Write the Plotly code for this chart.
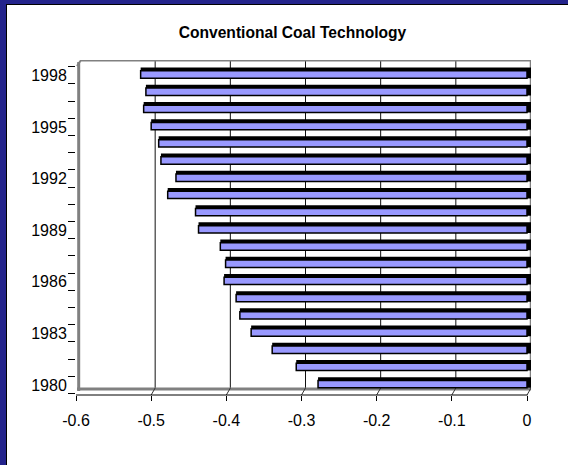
import plotly.graph_objects as go

# ---- data ----
years = list(range(1980, 1999))
values = [-0.278, -0.307, -0.339, -0.367, -0.382, -0.387, -0.403, -0.401, -0.408,
          -0.437, -0.441, -0.478, -0.467, -0.487, -0.490, -0.500, -0.510, -0.507, -0.514]
year_ticks = [1980, 1983, 1986, 1989, 1992, 1995, 1998]
x_ticks = [-0.6, -0.5, -0.4, -0.3, -0.2, -0.1, 0]
x_tick_text = ["-0.6", "-0.5", "-0.4", "-0.3", "-0.2", "-0.1", "0"]
title = "Conventional Coal Technology"

# ---- geometry (pixels) ----
W, H = 568, 465
L, R, T, B = 76, 531, 60, 395
XMIN = -0.6
PXU = 451 / 0.6            # pixels per x unit
XMAX = XMIN + (R - L) / PXU
PYU = 17.2                 # pixels per year
YMIN = 1979.5 - 1.5 / PYU
YMAX = YMIN + (B - T) / PYU

def px2x(px):
    return XMIN + (px - L) / PXU

def py2y(py):
    return YMIN + (B - py) / PYU

def pxp(px):
    return (px - L) / (R - L)

def pyp(py):
    return (B - py) / (B - T)

FONT = "Liberation Sans, Arial, sans-serif"
NAVY = "#24248C"
BLUE = "#9999FF"

fig = go.Figure()

# dark top/side face of the 3D bars
ext = 0.006
fig.add_trace(go.Bar(
    y=years, x=[v - ext for v in values], base=ext, orientation="h",
    width=0.62, offset=-0.17,
    marker=dict(color="black", line=dict(width=0)),
    hoverinfo="skip", showlegend=False,
))
# front face
fig.add_trace(go.Bar(
    y=years, x=values, orientation="h",
    width=0.43, offset=-0.17,
    marker=dict(color=BLUE, line=dict(color="black", width=1.5)),
    showlegend=False,
))

shapes = []
back_bottom = py2y(388)
top_y = py2y(T)
# back-wall gridlines
for v in x_ticks[1:-1]:
    xb = v + 4 / PXU
    shapes.append(dict(type="line", xref="x", yref="y", x0=xb, x1=xb,
                       y0=back_bottom, y1=top_y, layer="below",
                       line=dict(color="#111111", width=1)))
# right edge of wall
shapes.append(dict(type="line", xref="x", yref="y", x0=px2x(530.5), x1=px2x(530.5),
                   y0=back_bottom, y1=top_y, layer="below",
                   line=dict(color="#808080", width=1.5)))
# top edge of wall
shapes.append(dict(type="line", xref="x", yref="y", x0=px2x(80), x1=px2x(531),
                   y0=py2y(60.8), y1=py2y(60.8), layer="below",
                   line=dict(color="#808080", width=1.5)))
# left wall
shapes.append(dict(type="line", xref="x", yref="y", x0=px2x(78.7), x1=px2x(78.7),
                   y0=py2y(391), y1=py2y(62), layer="below",
                   line=dict(color="#808080", width=3)))
# top-left slanted corner
shapes.append(dict(type="line", xref="x", yref="y", x0=px2x(77), x1=px2x(80.5),
                   y0=py2y(66), y1=py2y(60.8), layer="below",
                   line=dict(color="#808080", width=2)))
# floor back edge
shapes.append(dict(type="line", xref="x", yref="y", x0=px2x(77), x1=px2x(531),
                   y0=py2y(389), y1=py2y(389), layer="below",
                   line=dict(color="#808080", width=3)))
# floor connectors from front ticks
for v in x_ticks[1:]:
    shapes.append(dict(type="line", xref="x", yref="y", x0=v, x1=v + 4 / PXU,
                       y0=py2y(395), y1=py2y(388), layer="below",
                       line=dict(color="#333333", width=1)))
# front axis line
shapes.append(dict(type="line", xref="paper", yref="paper", x0=pxp(76), x1=pxp(527.5),
                   y0=0, y1=0, layer="above",
                   line=dict(color="black", width=1)))

# navy frame
shapes.append(dict(type="rect", xref="paper", yref="paper",
                   x0=pxp(-2), x1=pxp(6), y0=pyp(H + 2), y1=pyp(-2),
                   fillcolor=NAVY, line=dict(width=0), layer="above"))
shapes.append(dict(type="rect", xref="paper", yref="paper",
                   x0=pxp(-2), x1=pxp(W + 2), y0=pyp(4), y1=pyp(-2),
                   fillcolor=NAVY, line=dict(width=0), layer="above"))
shapes.append(dict(type="line", xref="paper", yref="paper",
                   x0=pxp(6.5), x1=pxp(6.5), y0=pyp(H + 2), y1=pyp(4),
                   line=dict(color="black", width=1), layer="above"))
shapes.append(dict(type="line", xref="paper", yref="paper",
                   x0=pxp(6), x1=pxp(W + 2), y0=pyp(4.5), y1=pyp(4.5),
                   line=dict(color="black", width=1), layer="above"))

fig.update_layout(
    width=W, height=H, autosize=False,
    margin=dict(l=L, r=W - R, t=T, b=H - B, pad=0),
    paper_bgcolor="white", plot_bgcolor="white",
    barmode="overlay",
    font=dict(family=FONT, size=16, color="black"),
    title=dict(text=title, x=292.5 / W, xanchor="center",
               y=1 - 33 / H, yanchor="middle",
               font=dict(family=FONT, size=15.6, color="black", weight="bold")),
    shapes=shapes,
    xaxis=dict(range=[XMIN, XMAX], tickmode="array", tickvals=x_ticks,
               ticktext=x_tick_text, ticks="outside", ticklen=5,
               tickcolor="black", tickwidth=1, showgrid=False, zeroline=False,
               showline=False, ticklabelstandoff=6,
               tickfont=dict(family=FONT, size=16, color="black")),
    yaxis=dict(range=[YMIN, YMAX], tickmode="array", tickvals=year_ticks,
               ticktext=[str(y) for y in year_ticks],
               ticks="outside", ticklen=5, tickcolor="rgba(0,0,0,0)",
               showgrid=False, zeroline=False, showline=False,
               minor=dict(tickvals=[1979.5 + i for i in range(20)],
                          ticks="outside", ticklen=7, tickcolor="black",
                          tickwidth=1, showgrid=False),
               tickfont=dict(family=FONT, size=16, color="black")),
)

fig.write_html("out.html", config={"displayModeBar": False},
               post_script="document.body.style.margin='0';")
